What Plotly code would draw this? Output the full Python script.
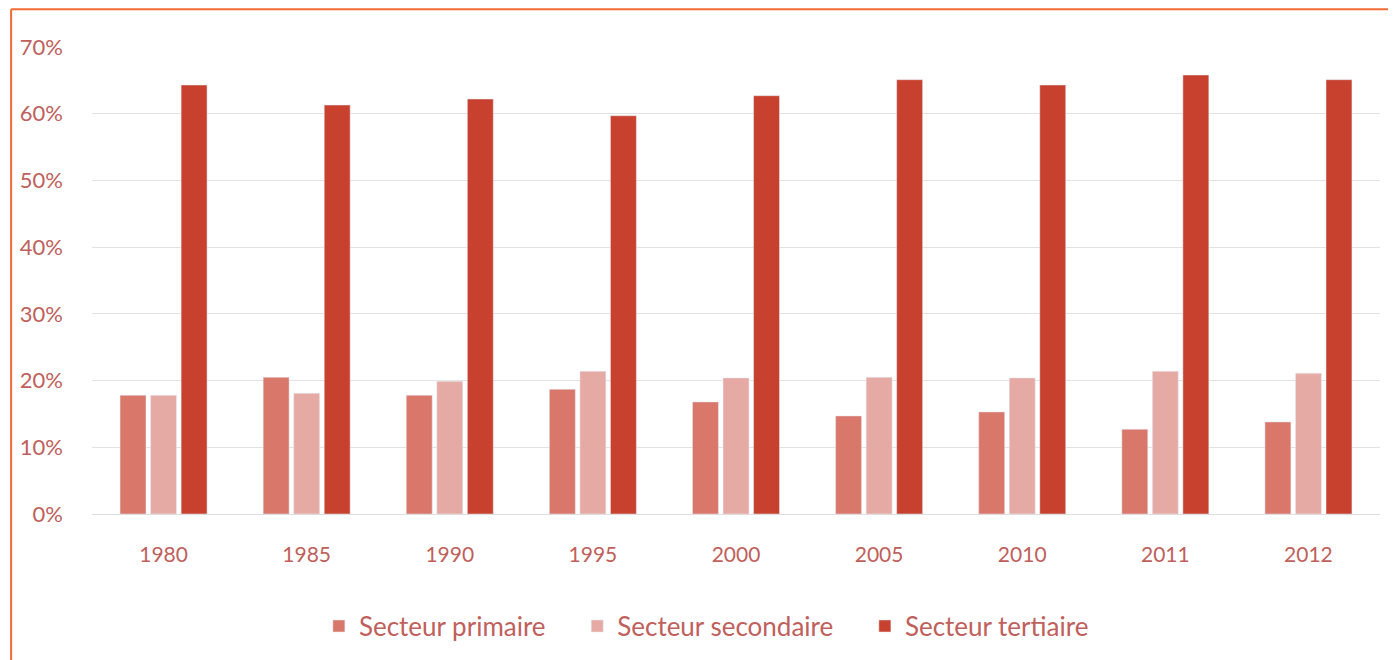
import plotly.graph_objects as go

# Data
years = ["1980", "1985", "1990", "1995", "2000", "2005", "2010", "2011", "2012"]
primaire = [17.8, 20.5, 17.8, 18.7, 16.8, 14.7, 15.3, 12.7, 13.8]
secondaire = [17.8, 18.1, 19.9, 21.4, 20.4, 20.5, 20.4, 21.4, 21.1]
tertiaire = [64.3, 61.3, 62.2, 59.7, 62.7, 65.1, 64.3, 65.8, 65.1]
y_ticks = [0, 10, 20, 30, 40, 50, 60, 70]
y_labels = ["0%", "10%", "20%", "30%", "40%", "50%", "60%", "70%"]

txt = "#c0605c"
pad = "\u00a0" * 4  # extra room between legend items

fig = go.Figure()
fig.add_trace(go.Bar(x=years, y=primaire, name="Secteur primaire" + pad, marker_color="#d9776b"))
fig.add_trace(go.Bar(x=years, y=secondaire, name="Secteur secondaire" + pad, marker_color="#e6aaa5"))
fig.add_trace(go.Bar(x=years, y=tertiaire, name="Secteur tertiaire", marker_color="#c8412f"))

fig.update_layout(
    width=1396, height=660,
    margin=dict(l=82, r=24, t=39, b=154),
    barmode="group",
    bargap=0.36,
    bargroupgap=0.15,
    plot_bgcolor="white",
    paper_bgcolor="white",
    font=dict(family="Lato", size=21, color=txt),
    showlegend=True,
    legend=dict(orientation="h", x=0.477, xanchor="center", y=-0.24, yanchor="middle",
                font=dict(size=26, color=txt), itemwidth=30, traceorder="normal"),
    xaxis=dict(showgrid=False, showline=True, linecolor="#dddddd", ticks="",
               ticklabelstandoff=22, tickfont=dict(size=21, color=txt)),
    yaxis=dict(range=[0, 70], tickvals=y_ticks, ticktext=y_labels,
               showgrid=True, gridcolor="#e2e2e2", zeroline=False, showline=False,
               ticks="", ticklabelstandoff=28, tickfont=dict(size=22, color=txt)),
    shapes=[
        dict(type="line", xref="paper", yref="paper", x0=-0.0628, x1=1.05, y0=1.081, y1=1.081,
             line=dict(color="#f06a35", width=2)),
        dict(type="line", xref="paper", yref="paper", x0=-0.0628, x1=-0.0628, y0=1.081, y1=-0.4,
             line=dict(color="#f06a35", width=2)),
    ],
)

fig.write_html("out.html")
